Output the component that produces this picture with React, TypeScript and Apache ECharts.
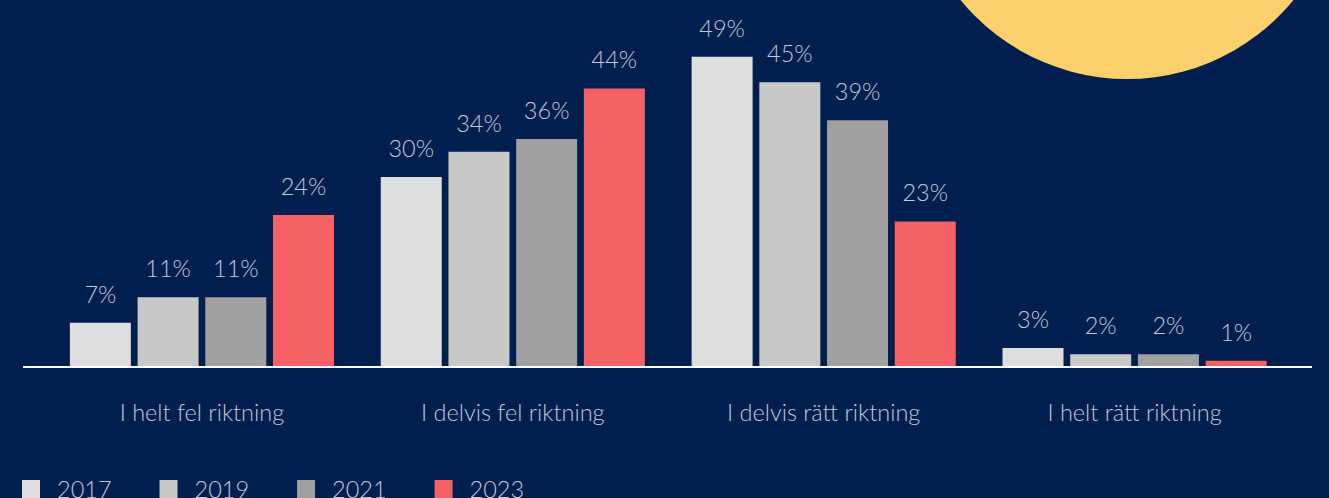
import React, { useEffect, useRef } from "react";
import * as echarts from "echarts";

const categories = ["I helt fel riktning", "I delvis fel riktning", "I delvis rätt riktning", "I helt rätt riktning"];
const years = ["2017", "2019", "2021", "2023"];
const v2017 = [7, 30, 49, 3];
const v2019 = [11, 34, 45, 2];
const v2021 = [11, 36, 39, 2];
const v2023 = [24, 44, 23, 1];
const seriesValues = [v2017, v2019, v2021, v2023];
const colors = ["#DEDEDE", "#C8C8C8", "#A0A0A0", "#F56265"];

const BG = "#001E4E";
const TXT = "#C3C9D6";
const FONT = "Lato, 'Noto Sans', sans-serif";

export default function App() {
  const ref = useRef<HTMLDivElement>(null);
  useEffect(() => {
    if (!ref.current) return;
    const chart = echarts.init(ref.current, undefined, { renderer: "svg" });
    const base = 367;
    const pxPer = 6.33;
    const maxV = 50;
    chart.setOption({
      animation: false,
      backgroundColor: BG,
      textStyle: { fontFamily: FONT },
      grid: { left: 46.5, right: 1329 - 1290, top: base - pxPer * maxV, height: pxPer * maxV, containLabel: false },
      legend: {
        left: 17,
        top: 471,
        itemWidth: 18,
        itemHeight: 18,
        itemGap: 48,
        icon: "rect",
        data: years,
        textStyle: { color: TXT, fontSize: 23.5, lineHeight: 26, fontWeight: 300, fontFamily: FONT, padding: [0, 0, 0, 12] },
      },
      xAxis: {
        type: "category",
        data: categories,
        axisLine: { show: false },
        axisTick: { show: false },
        axisLabel: { color: TXT, fontSize: 23.5, lineHeight: 24, fontWeight: 300, fontFamily: FONT, margin: 33 },
      },
      yAxis: { type: "value", min: 0, max: maxV, show: false, splitLine: { show: false } },
      graphic: [
        { type: "circle", shape: { cx: 1127, cy: -136, r: 215 }, style: { fill: "#FCD16B" }, z: 0 },
        { type: "line", shape: { x1: 23, y1: base, x2: 1312, y2: base }, style: { stroke: "#FFFFFF", lineWidth: 2 }, z: 10 },
      ],
      series: years.map((y, i) => ({
        name: y,
        type: "bar",
        data: seriesValues[i],
        barWidth: 61,
        barGap: "11%",
        itemStyle: { color: colors[i] },
        label: {
          show: true,
          position: "top",
          distance: 17,
          formatter: "{c}%",
          color: TXT,
          fontSize: 23.5,
          lineHeight: 24,
          fontWeight: 300,
          fontFamily: FONT,
        },
      })),
    });
    return () => chart.dispose();
  }, []);
  return <div ref={ref} style={{ position: "absolute", left: 0, top: 0, width: 1329, height: 498 }} />;
}
